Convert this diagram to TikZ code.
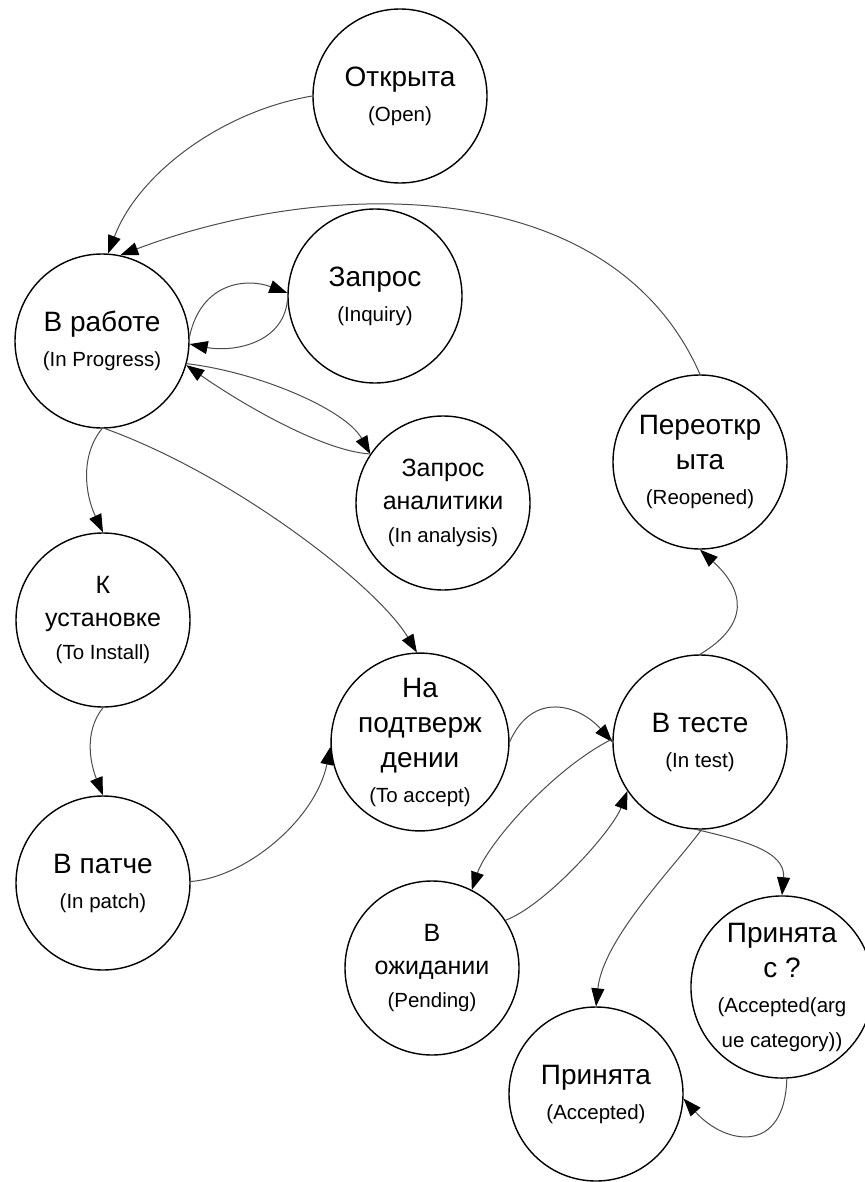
\documentclass[tikz,border=0pt]{standalone}
\usepackage{fontspec}
\setmainfont{Liberation Sans}
\usetikzlibrary{arrows.meta}

% English subtitle line inside a state
\newcommand{\engl}[1]{{\fontsize{10.25}{12}\selectfont #1}}

\tikzset{
  state/.style={circle, draw=black, line width=0.7pt, minimum size=87pt,
    inner sep=0pt, align=center, font=\fontsize{14}{17.5}\selectfont},
  litestate/.style={state, font=\fontsize{12.5}{16.5}\selectfont},
  conn/.style={draw=black!70, line width=0.5pt,
    -{Triangle[length=9pt,width=6.5pt,color=black]}},
}

\begin{document}
\begin{tikzpicture}[x=0.5pt,y=-0.5pt]
\useasboundingbox (0,0) rectangle (864,1182);
\fill[white] (0,0) rectangle (864,1182);

% states
\node[state]     (open)  at (400,96)   {Открыта\\\engl{(Open)}};
\node[state]     (wrk)   at (102,341)  {В работе\\\engl{(In Progress)}};
\node[state]     (inq)   at (375,296)  {Запрос\\\engl{(Inquiry)}};
\node[litestate] (ana)   at (443,503)  {Запрос\\аналитики\\\engl{(In analysis)}};
\node[state]     (reop)  at (700,462)  {Переоткр\\ыта\\\engl{(Reopened)}};
\node[litestate] (inst)  at (103,620)  {К\\установке\\\engl{(To Install)}};
\node[state]     (patch) at (103,883)  {В патче\\\engl{(In patch)}};
\node[state]     (ptv)   at (420,742)  {На\\подтверж\\дении\\\engl{(To accept)}};
\node[state]     (test)  at (700,742)  {В тесте\\\engl{(In test)}};
\node[litestate] (pend)  at (432,968)  {В\\ожидании\\\engl{(Pending)}};
\node[state]     (accq)  at (782,987)  {Принята\\с ?\\\engl{(Accepted(arg}\\\engl{ue category))}};
\node[state]     (acc)   at (596,1094) {Принята\\\engl{(Accepted)}};

% transitions
\path[conn] (open.180) .. controls +(-90,15) and +(30,-80) .. (wrk.86);
\path[conn] (reop.90) .. controls +(-90,-205) and +(200,-76) .. (wrk.78);
\path[conn] (wrk.3) .. controls +(12,-55) and +(-40,-15) .. (inq.178);
\path[conn] (inq.183) .. controls +(-5,45) and +(40,8) .. (wrk.-2);
\path[conn] (wrk.-15) .. controls +(70,8) and +(-25,-45) .. (ana.146);
\path[conn] (ana.146) .. controls +(-50,-3) and +(50,35) .. (wrk.-16);
\path[conn] (wrk.270) .. controls +(-22,27) and +(-18,-38) .. (inst.90);
\path[conn] (wrk.272) .. controls +(128,46) and +(-40,-67) .. (ptv.92);
\path[conn] (inst.270) .. controls +(-20,25) and +(-12,-30) .. (patch.90);
\path[conn] (patch.1) .. controls +(55,-4) and +(-15,73) .. (ptv.183);
\path[conn] (ptv.0) .. controls +(23,-52) and +(-33,-37) .. (test.180);
\path[conn] (test.178) .. controls +(-60,30) and +(15,-45) .. (pend.63);
\path[conn] (pend.33) .. controls +(40,-15) and +(-15,40) .. (test.214);
\path[conn] (test.90) .. controls +(50,-30) and +(45,41) .. (reop.270);
\path[conn] (test.268) .. controls +(42,10) and +(4,-45) .. (accq.90);
\path[conn] (test.271) .. controls +(-29,39) and +(7,-67) .. (acc.90);
\path[conn] (accq.273) .. controls +(-2,76) and +(42,47) .. (acc.-3);
\end{tikzpicture}
\end{document}
